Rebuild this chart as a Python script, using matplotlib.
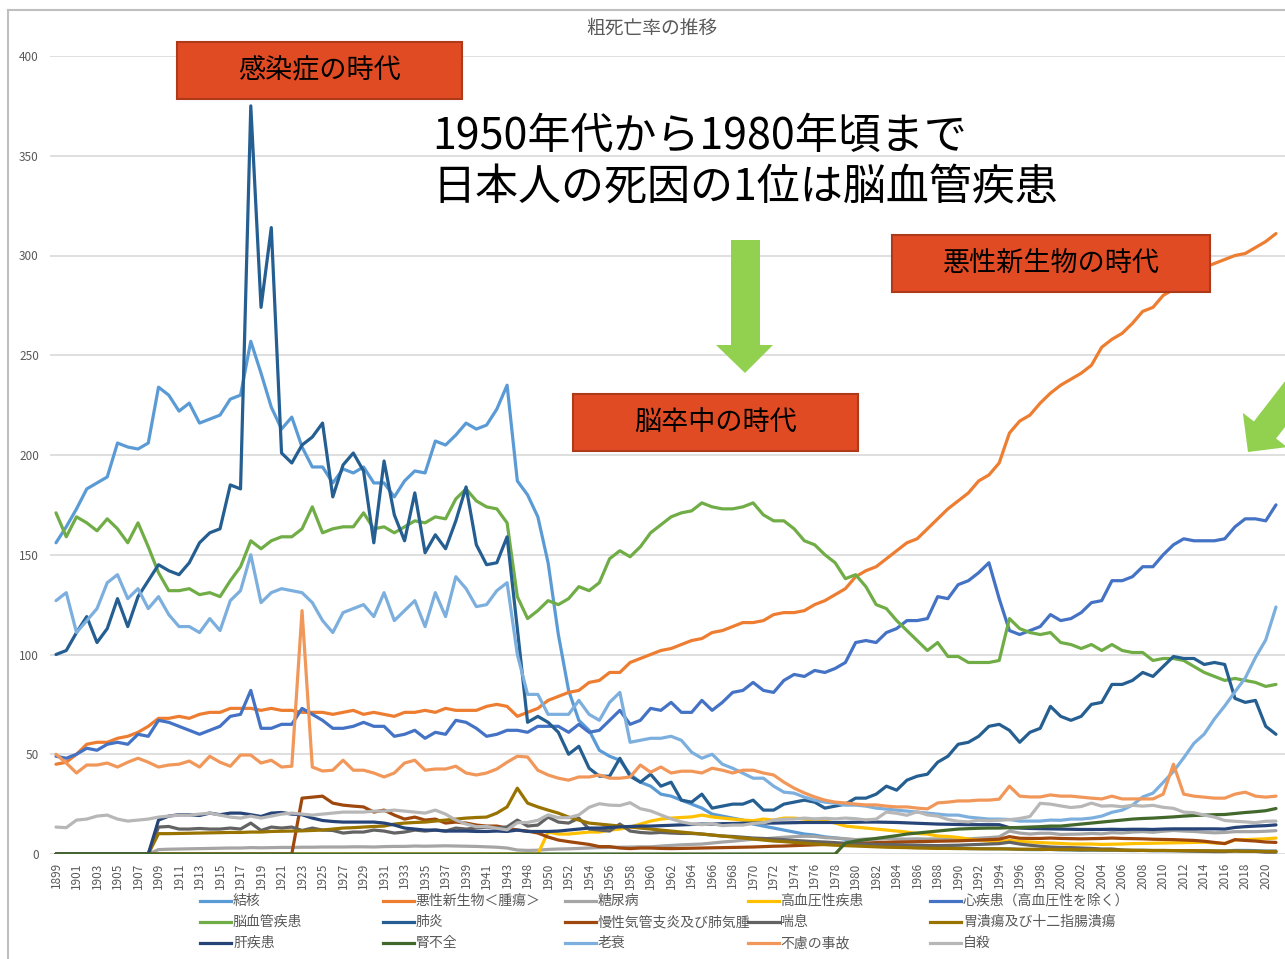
import matplotlib
matplotlib.use('Agg')
import matplotlib.pyplot as plt
from matplotlib.patches import Rectangle, Polygon
from matplotlib.lines import Line2D
import numpy as np

plt.rcParams['font.family'] = ['Noto Sans CJK JP', 'DejaVu Sans']

## categories: 1944-1946 are missing in the source table
years = list(range(1899, 1944)) + list(range(1947, 2022))
year_labels = [str(y) for y in years]

## death rates per 100,000
tuberculosis = [156, 164, 173, 183, 186, 189, 206, 204, 203, 206,
                234, 230, 222, 226, 216, 218, 220, 228, 230, 257,
                241, 224, 213, 219, 204, 194, 194, 186, 193, 191,
                194, 186, 186, 179, 187, 192, 191, 207, 205, 210,
                216, 213, 215, 223, 235,
                187, 180, 169, 146, 110, 82, 67, 62, 52, 49,
                47, 40, 36, 34, 30, 29, 27, 25, 23, 20,
                19, 18, 17, 15, 14, 13, 12, 11, 10, 9.5,
                8.6, 8.1, 7.4, 5.5, 5.4, 5.0, 4.6, 4.5, 4.1, 3.8,
                3.6, 3.3, 3.1, 3.0, 2.7, 2.7, 2.6, 2.6, 2.6, 2.3,
                2.2, 2.2, 2.3, 2.1, 2.0, 1.8, 1.9, 1.8, 1.8, 1.8,
                1.7, 1.8, 1.7, 1.7, 1.7, 1.7, 1.7, 1.7, 1.5, 1.5,
                1.8, 1.8, 1.7, 1.5, 1.5]

cancer = [45, 46, 50, 55, 56, 56, 58, 59, 61, 64,
          68, 68, 69, 68, 70, 71, 71, 73, 73, 73,
          72, 73, 72, 72, 71, 71, 71, 70, 71, 72,
          70, 71, 70, 69, 71, 71, 72, 71, 73, 72,
          72, 72, 74, 75, 74,
          69, 71, 73, 77, 79, 81, 82, 86, 87, 91,
          91, 96, 98, 100, 102, 103, 105, 107, 108, 111,
          112, 114, 116, 116, 117, 120, 121, 121, 122, 125,
          127, 130, 133, 139, 142, 144, 148, 152, 156, 158,
          163, 168, 173, 177, 181, 187, 190, 196, 211, 217,
          220, 226, 231, 235, 238, 241, 245, 254, 258, 261,
          266, 272, 274, 280, 283, 287, 290, 294, 296, 298,
          300, 301, 304, 307, 311]

diabetes = [0, 0, 0, 0, 0, 0, 0, 0, 0, 0,
            2.2, 2.4, 2.5, 2.6, 2.7, 2.8, 2.9, 3.0, 3.0, 3.2,
            3.1, 3.2, 3.3, 3.3, 3.4, 3.4, 3.5, 3.5, 3.5, 3.6,
            3.6, 3.5, 3.7, 3.8, 3.8, 4.0, 3.9, 4.0, 4.1, 4.0,
            3.9, 3.8, 3.6, 3.4, 3.0,
            2.0, 1.8, 1.9, 2.3, 2.5, 2.6, 2.8, 3.0, 3.2, 3.3,
            3.4, 3.5, 3.6, 3.6, 4.0, 4.3, 4.6, 4.8, 5.0, 5.5,
            6.0, 6.4, 6.9, 7.4, 7.6, 8.0, 8.4, 8.7, 8.9, 8.8,
            8.2, 8.0, 7.7, 7.2, 7.5, 7.4, 7.8, 7.5, 7.5, 7.6,
            7.5, 7.6, 7.4, 7.7, 7.6, 7.9, 8.2, 8.6, 11.5, 10.5,
            10.0, 10.4, 10.4, 9.8, 9.9, 10.0, 10.3, 10.1, 10.7, 10.5,
            11.0, 11.2, 10.9, 11.4, 11.8, 11.5, 11.3, 10.9, 10.6, 10.8,
            11.2, 11.2, 11.2, 11.4, 11.7]

hypertension = [0] * 45 + [
    0, 0, 0, 11, 10, 10, 10.5, 11, 11, 12,
    12.5, 13.5, 15, 16.5, 17.5, 18, 18.3, 18.6, 19.5, 18.6,
    18, 17.5, 17, 16.7, 17.5, 17, 18, 18, 17.5, 17,
    16.5, 15.5, 14, 13.5, 13, 12.5, 12, 11.5, 11, 10.3,
    10, 9, 8.8, 8.3, 7.5, 7.0, 6.5, 6.0, 6.8, 6.3,
    6.0, 5.7, 5.5, 5.3, 5.0, 5.0, 5.0, 4.8, 4.9, 5.0,
    5.2, 5.3, 5.4, 5.5, 5.6, 5.7, 5.8, 5.9, 5.5, 5.3,
    7.0, 7.2, 7.4, 7.6, 8.0]

heart = [49, 48, 50, 53, 52, 55, 56, 55, 60, 59,
         67, 66, 64, 62, 60, 62, 64, 69, 70, 82,
         63, 63, 65, 65, 73, 70, 67, 63, 63, 64,
         66, 64, 64, 59, 60, 62, 58, 61, 60, 67,
         66, 63, 59, 60, 62,
         62, 61, 64, 64, 64, 61, 65, 61, 62, 67,
         72, 65, 67, 73, 72, 76, 71, 71, 77, 72,
         76, 81, 82, 86, 82, 81, 87, 90, 89, 92,
         91, 93, 96, 106, 107, 106, 111, 113, 117, 117,
         118, 129, 128, 135, 137, 141, 146, 128, 112, 110,
         112, 114, 120, 117, 118, 121, 126, 127, 137, 137,
         139, 144, 144, 150, 155, 158, 157, 157, 157, 158,
         164, 168, 168, 167, 175]

stroke = [171, 159, 169, 166, 162, 168, 163, 156, 166, 154,
          141, 132, 132, 133, 130, 131, 129, 137, 144, 157,
          153, 157, 159, 159, 163, 174, 161, 163, 164, 164,
          171, 163, 164, 161, 164, 167, 166, 169, 168, 178,
          183, 177, 174, 173, 166,
          129, 118, 122, 127, 125, 128, 134, 132, 136, 148,
          152, 149, 154, 161, 165, 169, 171, 172, 176, 174,
          173, 173, 174, 176, 170, 167, 167, 163, 157, 155,
          150, 146, 138, 140, 134, 125, 123, 117, 112, 107,
          102, 106, 99, 99, 96, 96, 96, 97, 118, 113,
          111, 110, 111, 106, 105, 103, 105, 102, 105, 102,
          101, 101, 97, 98, 98, 97, 94, 91, 89, 87,
          88, 87, 86, 84, 85]

pneumonia = [100, 102, 111, 119, 106, 113, 128, 114, 129, 137,
             145, 142, 140, 146, 156, 161, 163, 185, 183, 375,
             274, 314, 201, 196, 205, 209, 216, 179, 195, 201,
             192, 156, 197, 170, 157, 181, 151, 160, 153, 167,
             184, 155, 145, 146, 159,
             113, 66, 69, 66, 61, 50, 54, 43, 39, 39,
             48, 39, 36, 40, 34, 36, 27, 26, 30, 23,
             24, 25, 25, 27, 22, 22, 25, 26, 27, 26,
             23, 24, 25, 28, 28, 30, 34, 32, 37, 39,
             40, 46, 49, 55, 56, 59, 64, 65, 62, 56,
             61, 63, 74, 69, 67, 69, 75, 76, 85, 85,
             87, 91, 89, 94, 99, 98, 98, 95, 96, 95,
             78, 76, 77, 64, 60]

copd = [0, 0, 0, 0, 0, 0, 0, 0, 0, 0,
        0, 0, 0, 0, 0, 0, 0, 0, 0, 0,
        0, 0, 0, 0, 28, 28.5, 29, 25.5, 24.5, 24,
        23.6, 21, 22, 19.5, 17.5, 18.5, 17, 17.5, 15.5, 16,
        15.5, 14.5, 14, 14, 13,
        12, 11.5, 10.5, 8.5, 7, 6.2, 5.5, 4.8, 3.7, 3.7,
        3, 2.7, 3, 3, 2.8, 2.7, 2.8, 2.9, 3.0, 3.1,
        3.2, 3.3, 3.4, 3.5, 3.7, 3.9, 4.0, 4.2, 4.4, 4.6,
        4.8, 5.0, 5.1, 5.3, 5.5, 5.7, 5.9, 6.0, 6.1, 6.2,
        6.3, 6.4, 6.5, 6.6, 6.8, 7.0, 7.2, 7.4, 8.7, 7.9,
        7.8, 7.8, 8.0, 7.8, 7.7, 7.6, 7.7, 7.8, 8.0, 7.8,
        7.7, 7.6, 7.4, 7.3, 7.2, 7.0, 6.8, 6.4, 5.8, 5.2,
        7.2, 6.8, 6.5, 6.0, 5.8]

asthma = [0, 0, 0, 0, 0, 0, 0, 0, 0, 0,
          13.5, 13.8, 12.5, 12.5, 12.8, 12.5, 12.5, 13, 12.5, 15.5,
          11.8, 13.5, 13, 13.5, 11.8, 13, 12, 11.8, 10.5, 11,
          11, 12, 11.5, 10.5, 11, 12, 11.5, 12, 11.5, 13,
          12.5, 13, 13.5, 13, 13.6,
          17, 14, 14.5, 18.5, 16, 15.5, 18, 12.5, 12, 11.5,
          15, 11.5, 10.8, 10.5, 10.8, 10.5, 10.3, 10.3, 10, 9.5,
          9.0, 8.8, 8.4, 8.0, 7.8, 7.5, 7.2, 6.8, 6.5, 6.2,
          6.0, 5.7, 5.4, 5.0, 4.9, 4.8, 4.7, 4.6, 4.5, 4.4,
          4.3, 4.2, 4.3, 4.4, 4.6, 4.8, 5.0, 5.2, 5.9, 5.0,
          4.4, 3.9, 3.5, 3.3, 3.2, 3.0, 2.8, 2.5, 2.5, 2.0,
          1.8, 1.8, 1.7, 1.7, 1.7, 1.5, 1.4, 1.3, 1.2, 1.2,
          1.5, 1.3, 1.3, 0.9, 0.9]

ulcer = [0, 0, 0, 0, 0, 0, 0, 0, 0, 0,
         10.2, 10.2, 10.3, 10.4, 10.5, 10.6, 10.7, 10.8, 10.8, 11,
         11, 11.3, 11.4, 11.5, 11.6, 11.8, 12, 12.5, 13, 13.2,
         13.5, 13.8, 14, 15, 15.5, 15.8, 16, 16.5, 17, 17.5,
         18, 18.3, 18.5, 20.5, 23.6,
         33, 25.5, 23.6, 22, 20.5, 18.5, 17, 15.5, 15, 14.5,
         14, 13.5, 13, 12.5, 12, 11.5, 11, 10.5, 10, 9.5,
         9, 8.5, 8, 7.5, 7, 6.5, 6.2, 5.8, 5.4, 5.0,
         4.7, 4.4, 4.2, 4.0, 3.8, 3.6, 3.4, 3.3, 3.2, 3.0,
         2.9, 2.8, 2.8, 2.7, 2.7, 2.6, 2.6, 2.6, 2.5, 2.4,
         2.4, 2.3, 2.3, 2.2, 2.2, 2.1, 2.1, 2.0, 2.0, 1.9,
         1.9, 1.8, 1.8, 1.8, 1.7, 1.7, 1.7, 1.6, 1.6, 1.5,
         1.5, 1.4, 1.4, 1.3, 1.3]

liver = [0, 0, 0, 0, 0, 0, 0, 0, 0, 0,
         17, 19, 19.7, 19.7, 19.3, 20.5, 19.7, 20.5, 20.5, 19.7,
         18.8, 20.5, 20.8, 20, 19.7, 18, 16.8, 16.3, 16, 16,
         16, 16, 15.5, 14.5, 13, 12.5, 12, 12, 11.5, 11.5,
         11.5, 11.3, 11.3, 11.5, 11.3,
         12, 11.3, 11.3, 11.3, 11.5, 12, 12.5, 13, 13, 13.3,
         13.6, 13.8, 14, 14, 14.2, 14.4, 14.6, 14.8, 15, 15,
         15.2, 15.3, 15.4, 15.5, 15.5, 15.5, 15.6, 15.7, 15.8, 15.8,
         15.8, 15.8, 15.8, 15.9, 16, 16, 15.9, 15.8, 15.6, 15.4,
         15.2, 15, 14.9, 14.8, 14.7, 14.7, 14.7, 14.7, 13.2, 13,
         12.8, 12.7, 12.6, 12.5, 12.4, 12.3, 12.3, 12.3, 12.4, 12.3,
         12.4, 12.4, 12.3, 12.5, 12.6, 12.6, 12.6, 12.6, 12.6, 12.5,
         13.3, 13.7, 14.0, 14.2, 14.6]

kidney = [0] * 77 + [
    5.5, 6.5, 7.2, 7.8, 8.5, 9.2, 10, 10.5, 11, 11.5,
    12, 12.5, 12.7, 12.9, 13, 13, 13.2, 13.3, 13.5, 13.7,
    14, 14, 14.5, 15, 15.5, 16, 16.5, 17, 17.5, 17.8,
    18, 18.3, 18.6, 19, 19.3, 19.5, 19.7, 19.8, 20.3, 20.8,
    21.2, 21.7, 22.8]

senility = [127, 131, 111, 117, 123, 136, 140, 128, 133, 123,
            129, 120, 114, 114, 111, 118, 112, 127, 132, 150,
            126, 131, 133, 132, 131, 126, 117, 111, 121, 123,
            125, 119, 131, 117, 122, 127, 114, 131, 119, 139,
            133, 124, 125, 132, 136,
            100, 80, 80, 70, 70, 70, 77, 70, 67, 76,
            81, 56, 57, 58, 58, 59, 57, 51, 48, 50,
            45, 43, 40.5, 38, 38, 34, 31, 30.5, 28.5, 27,
            26, 25.5, 24.5, 24.5, 24, 23, 22.5, 22, 21.5, 21,
            20.5, 20, 19.5, 19.5, 18.5, 18, 17.5, 17.5, 17.3, 16.5,
            16.5, 16.5, 17, 16.9, 17.5, 17.5, 18, 19, 20.9, 22,
            24.5, 28.6, 30.5, 35.9, 41.4, 48.2, 55.5, 60.1, 67.7, 74.2,
            81.3, 88.2, 98.5, 107.3, 123.8]

accident = [50, 45.6, 40.6, 44.6, 44.6, 45.6, 43.6, 46, 48, 46,
            43.6, 44.6, 45, 46.6, 43.6, 49, 46, 44, 49.6, 49.6,
            45.6, 47, 43.6, 44, 122, 43.6, 41.6, 42, 47, 42,
            42, 40.6, 38.6, 40.6, 45.6, 47, 42, 42.6, 42.6, 44,
            40.6, 39.6, 40.6, 42.6, 46,
            49, 48.6, 42, 39.6, 38, 37, 38.6, 38.6, 39.6, 38,
            38, 38.6, 44.6, 41, 43.6, 40.6, 41.5, 41.5, 40.6, 43,
            42, 40.6, 42, 42, 40.6, 39.6, 36, 33, 30.6, 28.6,
            27, 26, 25.6, 25, 24.6, 24.6, 24, 23.6, 23.6, 23,
            22.6, 25.6, 26, 26.6, 26.6, 27, 27, 27.5, 34, 29,
            28.6, 28.6, 29.6, 29, 29, 28.5, 28, 27.6, 29, 27.6,
            27.6, 27.6, 27.6, 30, 45, 30, 29, 28.5, 28, 28,
            30, 31, 29, 28.5, 29]

suicide = [13.5, 13.2, 17, 17.5, 19, 19.5, 17.5, 16.5, 17, 17.5,
           18.5, 19, 19.5, 19.5, 20, 20.5, 19.5, 18.5, 18, 19,
           18, 19, 20, 20.5, 20, 19.5, 20, 20.5, 21, 21,
           21, 21.5, 21.5, 22, 21.5, 21, 20.5, 22, 20, 17,
           15, 13.7, 13.8, 12.9, 12.1,
           15.7, 15.8, 16.9, 19.6, 18.2, 18.2, 19.6, 23.4, 25.2, 24.5,
           24.3, 25.7, 22.7, 21.6, 19.6, 17.6, 16.1, 15.1, 14.7, 15.2,
           14.2, 14.5, 14.5, 15.3, 15.6, 17.0, 17.4, 17.5, 18.0, 17.6,
           17.9, 17.6, 18.0, 17.7, 17.1, 17.5, 21.0, 20.4, 19.4, 21.2,
           19.6, 19.0, 17.3, 16.4, 16.1, 16.9, 16.6, 16.9, 17.2, 17.8,
           18.8, 25.4, 25.0, 24.1, 23.3, 23.8, 25.5, 24.0, 24.2, 23.7,
           24.4, 24.0, 24.4, 23.4, 22.9, 21.0, 20.7, 19.5, 18.5, 16.8,
           16.4, 16.1, 15.7, 16.4, 16.5]

names = ['結核', '悪性新生物＜腫瘍＞', '糖尿病', '高血圧性疾患', '心疾患（高血圧性を除く）',
         '脳血管疾患', '肺炎', '慢性気管支炎及び肺気腫', '喘息', '胃潰瘍及び十二指腸潰瘍',
         '肝疾患', '腎不全', '老衰', '不慮の事故', '自殺']
values = [tuberculosis, cancer, diabetes, hypertension, heart,
          stroke, pneumonia, copd, asthma, ulcer,
          liver, kidney, senility, accident, suicide]
colors = ['#5B9BD5', '#ED7D31', '#A5A5A5', '#FFC000', '#4472C4',
          '#70AD47', '#255E91', '#9E480E', '#636363', '#997300',
          '#264478', '#43682B', '#7CAFDD', '#F1975A', '#B7B7B7']

for nm, v in zip(names, values):
    assert len(v) == len(years), (nm, len(v))

W, H = 1285, 959
def fx(x): return x / W
def fy(y): return 1 - y / H

fig = plt.figure(figsize=(W / 100, H / 100), dpi=100)
ax = fig.add_axes([fx(50), fy(854), (1285 - 50) / W, (854 - 56) / H])

xs = np.arange(len(years))
for nm, v, c in zip(names, values, colors):
    ax.plot(xs, v, color=c, lw=2.3, solid_joinstyle='round', solid_capstyle='round')

ax.set_xlim(-0.585, len(years) - 1 + 0.88)
ax.set_ylim(0, 400)
ax.set_yticks(range(0, 401, 50))
ax.set_xticks(xs[::2])
ax.set_xticklabels(year_labels[::2], rotation=90)
ax.tick_params(axis='both', length=0, labelsize=8.5, labelcolor='#595959')
ax.tick_params(axis='y', pad=8)
ax.tick_params(axis='x', pad=6)
ax.yaxis.grid(True, color='#D9D9D9', lw=1.2)
ax.set_axisbelow(True)
for s in ax.spines.values():
    s.set_visible(False)

# chart frame (top and left edges visible)
fig.add_artist(Line2D([fx(8), fx(1285)], [fy(10), fy(10)], transform=fig.transFigure,
                      color='#BFBFBF', lw=1.5))
fig.add_artist(Line2D([fx(8), fx(8)], [fy(10), fy(959)], transform=fig.transFigure,
                      color='#BFBFBF', lw=1.5))

fig.text(fx(652), fy(28), '粗死亡率の推移', ha='center', va='center', fontsize=13.5, color='#595959')

# legend, 5 columns x 3 rows
for k, (nm, c) in enumerate(zip(names, colors)):
    r, col = divmod(k, 5)
    x0 = 200 + col * 182.5
    y0 = 901 + r * 21
    fig.add_artist(Line2D([fx(x0), fx(x0 + 31)], [fy(y0), fy(y0)], transform=fig.transFigure,
                          color=c, lw=2.3))
    fig.text(fx(x0 + 33), fy(y0), nm, ha='left', va='center', fontsize=10, color='#595959')

# era boxes
box_fc = '#E14B24'
box_ec = '#AE3A1A'
boxes = [(177, 42, 462, 99, '感染症の時代'),
         (892, 235, 1210, 292, '悪性新生物の時代'),
         (573, 394, 858, 451, '脳卒中の時代')]
for x1, y1, x2, y2, txt in boxes:
    fig.add_artist(Rectangle((fx(x1), fy(y2)), (x2 - x1) / W, (y2 - y1) / H,
                             transform=fig.transFigure, facecolor=box_fc, edgecolor=box_ec,
                             lw=1.5, zorder=5))
    fig.text(fx((x1 + x2) / 2), fy((y1 + y2) / 2), txt, ha='center', va='center',
             fontsize=19.5, color='black', zorder=6)

fig.text(fx(432), fy(137), '1950年代から1980年頃まで', ha='left', va='center',
         fontsize=31, color='black', zorder=6)
fig.text(fx(432), fy(188), '日本人の死因の1位は脳血管疾患', ha='left', va='center',
         fontsize=31, color='black', zorder=6)

# green arrows
arrow_c = '#92D050'
down = [(731, 240), (760, 240), (760, 345), (773, 345), (745, 373), (716, 345), (731, 345)]
fig.add_artist(Polygon([(fx(a), fy(b)) for a, b in down], closed=True,
                       transform=fig.transFigure, facecolor=arrow_c, edgecolor='none', zorder=5))

tip = np.array([1248.0, 452.0])
d = np.array([-17.0, 22.0])
hl = np.linalg.norm(d)
d = d / hl
n = np.array([d[1], -d[0]])
base = tip - hl * d
tail = base - 160 * d
pts = [tail + 14 * n, base + 14 * n, base + 28 * n, tip, base - 28 * n, base - 14 * n, tail - 14 * n]
fig.add_artist(Polygon([(fx(p[0]), fy(p[1])) for p in pts], closed=True,
                       transform=fig.transFigure, facecolor=arrow_c, edgecolor='none', zorder=5))

fig.savefig('out.png', dpi=100)
